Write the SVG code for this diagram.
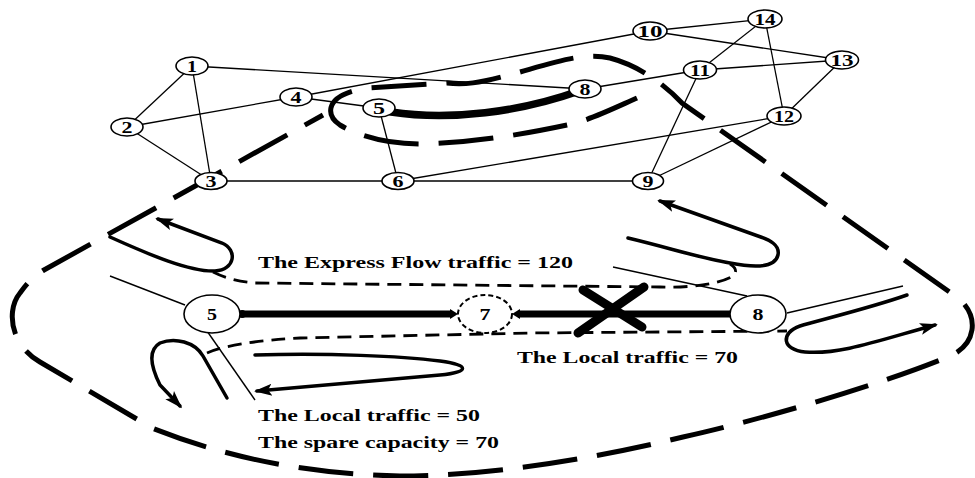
<svg xmlns="http://www.w3.org/2000/svg" width="975" height="478" viewBox="0 0 975 478">
  <style>
    .edge { stroke: #000; stroke-width: 1.3; fill: none; }
    .thin { stroke: #000; stroke-width: 1.4; fill: none; }
    .node ellipse { fill: #fff; stroke: #000; stroke-width: 1.6; }
    .lbl { font-family: "Liberation Serif", "Times New Roman", serif; font-weight: bold; font-size: 17px; text-anchor: middle; fill: #000; }
    .cap { font-family: "Liberation Serif", "Times New Roman", serif; font-weight: bold; font-size: 17px; fill: #000; }
    .funnel { fill: none; stroke: #000; stroke-width: 5; stroke-dasharray: 55 20; }
    .loop { fill: none; stroke: #000; stroke-width: 3.5; stroke-linecap: round; marker-end: url(#ah); }
    .thindash { fill: none; stroke: #000; stroke-width: 2.8; stroke-dasharray: 14 8; }
    .trunk { stroke: #000; stroke-width: 7; fill: none; }
  </style>
  <defs>
    <marker id="ah" markerUnits="userSpaceOnUse" markerWidth="18" markerHeight="14" refX="15" refY="7" orient="auto" viewBox="0 0 18 14">
      <path d="M0,1 L18,7 L0,13 L4,7 z" fill="#000"/>
    </marker>
    <marker id="tip" markerUnits="userSpaceOnUse" markerWidth="8" markerHeight="10" refX="2" refY="5" orient="auto" viewBox="0 0 8 10">
      <path d="M0,0 L8,5 L0,10 z" fill="#000"/>
    </marker>
    <marker id="dot" markerUnits="userSpaceOnUse" markerWidth="8" markerHeight="8" refX="4" refY="4" viewBox="0 0 8 8">
      <circle cx="4" cy="4" r="4" fill="#000"/>
    </marker>
  </defs>

  <rect width="975" height="478" fill="#fff"/>

  <!-- connectors of the backbone network -->
  <g id="connectors">
    <line class="edge" x1="192" y1="66" x2="127" y2="127"/>
    <line class="edge" x1="192" y1="66" x2="211" y2="181"/>
    <line class="edge" x1="192" y1="66" x2="585" y2="89"/>
    <line class="edge" x1="127" y1="127" x2="296" y2="97"/>
    <line class="edge" x1="127" y1="127" x2="211" y2="181"/>
    <line class="edge" x1="211" y1="181" x2="398" y2="181"/>
    <line class="edge" x1="296" y1="97" x2="379" y2="108"/>
    <line class="edge" x1="296" y1="97" x2="650" y2="31"/>
    <line class="edge" x1="379" y1="108" x2="398" y2="181"/>
    <line class="edge" x1="398" y1="181" x2="648" y2="181"/>
    <line class="edge" x1="398" y1="181" x2="784" y2="116"/>
    <line class="edge" x1="585" y1="89" x2="700" y2="70"/>
    <line class="edge" x1="648" y1="181" x2="700" y2="70"/>
    <line class="edge" x1="648" y1="181" x2="784" y2="116"/>
    <line class="edge" x1="650" y1="31" x2="765" y2="19"/>
    <line class="edge" x1="650" y1="31" x2="842" y2="60"/>
    <line class="edge" x1="700" y1="70" x2="765" y2="19"/>
    <line class="edge" x1="700" y1="70" x2="842" y2="60"/>
    <line class="edge" x1="765" y1="19" x2="784" y2="116"/>
    <line class="edge" x1="784" y1="116" x2="842" y2="60"/>
    <!-- express path 5 to 8 -->
    <path d="M391,112 C450,121 520,112 579,91" stroke="#000" stroke-width="7.5" fill="none" stroke-linecap="round"/>
  </g>

  <!-- magnified span: dashed envelope -->
  <g id="envelope">
    <path class="funnel" d="M637,98 C610,110 590,120 567,125 C520,135 470,143 420,144 C390,144 360,137 340,125 C324,114 326,94 367,88 L447,83 C470,86 490,80 520,72 C555,62 585,52 610,58 C640,66 665,85 682,103 L958,298 C980,316 976,345 950,356 C880,385 760,420 683,437 C580,462 480,476 400,476 C300,474 220,455 152,428 L40,362 C10,345 6,310 20,293 C28,282 34,276 44,270 L323,115"/>
  </g>

  <!-- backbone nodes -->
  <g id="n1" class="node"><ellipse cx="192" cy="66" rx="16" ry="9"/><text class="lbl" x="192" y="72" textLength="10" lengthAdjust="spacingAndGlyphs">1</text></g>
  <g id="n2" class="node"><ellipse cx="127" cy="127" rx="16" ry="9"/><text class="lbl" x="127" y="133" textLength="11" lengthAdjust="spacingAndGlyphs">2</text></g>
  <g id="n3" class="node"><ellipse cx="211" cy="181" rx="16" ry="8.5"/><text class="lbl" x="211" y="187" textLength="11" lengthAdjust="spacingAndGlyphs">3</text></g>
  <g id="n4" class="node"><ellipse cx="296" cy="97" rx="16" ry="9"/><text class="lbl" x="296" y="103" textLength="11" lengthAdjust="spacingAndGlyphs">4</text></g>
  <g id="n5" class="node"><ellipse cx="379" cy="108" rx="16" ry="9"/><text class="lbl" x="379" y="114" textLength="12" lengthAdjust="spacingAndGlyphs">5</text></g>
  <g id="n6" class="node"><ellipse cx="398" cy="181" rx="16" ry="8.5"/><text class="lbl" x="398" y="187" textLength="11" lengthAdjust="spacingAndGlyphs">6</text></g>
  <g id="n8" class="node"><ellipse cx="585" cy="89" rx="16" ry="9"/><text class="lbl" x="585" y="95" textLength="11" lengthAdjust="spacingAndGlyphs">8</text></g>
  <g id="n9" class="node"><ellipse cx="648" cy="181" rx="15.5" ry="8.5"/><text class="lbl" x="648" y="187" textLength="11" lengthAdjust="spacingAndGlyphs">9</text></g>
  <g id="n10" class="node"><ellipse cx="650" cy="31" rx="17" ry="9"/><text class="lbl" x="650" y="37" textLength="25" lengthAdjust="spacingAndGlyphs">10</text></g>
  <g id="n11" class="node"><ellipse cx="700" cy="70" rx="16.5" ry="9"/><text class="lbl" x="700" y="76" textLength="20" lengthAdjust="spacingAndGlyphs">11</text></g>
  <g id="n12" class="node"><ellipse cx="784" cy="116" rx="17" ry="9"/><text class="lbl" x="784" y="122" textLength="20" lengthAdjust="spacingAndGlyphs">12</text></g>
  <g id="n13" class="node"><ellipse cx="842" cy="60" rx="16.5" ry="9"/><text class="lbl" x="842" y="66" textLength="23" lengthAdjust="spacingAndGlyphs">13</text></g>
  <g id="n14" class="node"><ellipse cx="765" cy="19" rx="17" ry="9"/><text class="lbl" x="765" y="25" textLength="21" lengthAdjust="spacingAndGlyphs">14</text></g>

  <!-- magnified span: traffic flows -->
  <g id="flows">
    <path class="thindash" d="M213,272 C225,278 240,282 255,283 L660,287 C690,288 720,284 733,276 C738,272 735,267 730,264"/>
    <path class="thindash" d="M207,353 C225,345 260,340 300,338 L530,333 L787,331"/>
    <path class="loop" d="M110,237 C150,255 190,272 215,271 C235,270 238,250 222,243 L158,219"/>
    <path class="loop" d="M227,398 L203,356 C195,342 175,337 160,343 C148,350 150,365 160,385 L180,406"/>
    <path class="loop" d="M628,238 C670,248 700,258 730,263 C755,268 775,268 778,255 C780,245 770,240 758,236 L660,201"/>
    <path class="loop" d="M907,295 C870,308 820,320 800,326 C780,333 782,350 805,352 C840,355 880,340 935,325"/>
    <path class="loop" d="M255,355 C330,353 400,356 440,361 C470,365 470,372 440,375 L257,391"/>
    <line class="thin" x1="110" y1="276" x2="185" y2="305"/>
    <line class="thin" x1="207" y1="331" x2="255" y2="400"/>
    <line class="thin" x1="613" y1="267" x2="747" y2="296"/>
    <line class="thin" x1="787" y1="313" x2="903" y2="286"/>
    <line class="trunk" x1="242" y1="314" x2="452" y2="314" marker-start="url(#dot)" marker-end="url(#tip)"/>
    <line class="trunk" x1="730" y1="314" x2="518" y2="314" marker-end="url(#tip)"/>
    <line x1="578" y1="333" x2="644" y2="287" stroke="#000" stroke-width="9" stroke-linecap="round"/>
    <line x1="583" y1="290" x2="642" y2="327" stroke="#000" stroke-width="9" stroke-linecap="round"/>
  </g>

  <!-- magnified span: nodes -->
  <g id="m5" class="node"><ellipse cx="212" cy="314" rx="28" ry="19"/><text class="lbl" x="212" y="320" textLength="10" lengthAdjust="spacingAndGlyphs">5</text></g>
  <g id="m7"><ellipse cx="485" cy="314" rx="27" ry="19" fill="none" stroke="#000" stroke-width="2" stroke-dasharray="5 3"/><text class="lbl" x="485" y="320" textLength="11" lengthAdjust="spacingAndGlyphs">7</text></g>
  <g id="m8" class="node"><ellipse cx="758" cy="314" rx="28" ry="19"/><text class="lbl" x="758" y="320" textLength="11" lengthAdjust="spacingAndGlyphs">8</text></g>

  <!-- captions -->
  <g id="captions">
    <text class="cap" x="258" y="268" textLength="315" lengthAdjust="spacingAndGlyphs">The Express Flow traffic = 120</text>
    <text class="cap" x="517" y="363" textLength="221" lengthAdjust="spacingAndGlyphs">The Local traffic = 70</text>
    <text class="cap" x="258" y="421" textLength="222" lengthAdjust="spacingAndGlyphs">The Local traffic = 50</text>
    <text class="cap" x="258" y="448" textLength="241" lengthAdjust="spacingAndGlyphs">The spare capacity = 70</text>
  </g>
</svg>
